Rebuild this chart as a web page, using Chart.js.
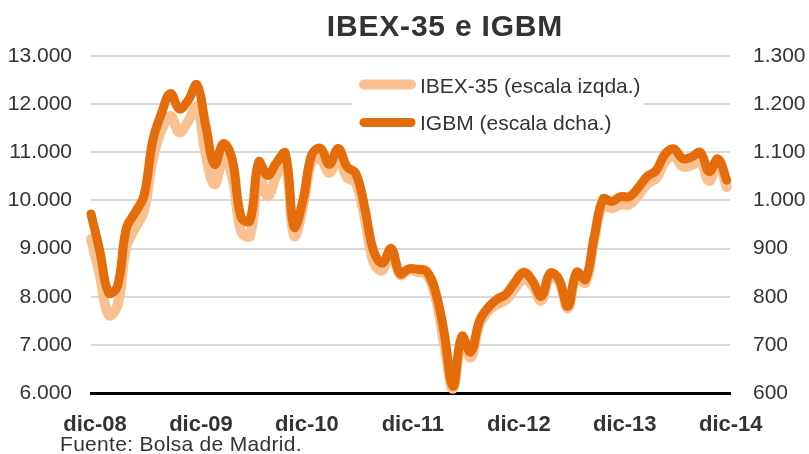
<!DOCTYPE html>
<html lang="es">
<head>
<meta charset="utf-8">
<title>IBEX-35 e IGBM</title>
<script src="https://cdn.jsdelivr.net/npm/chart.js@4.4.1/dist/chart.umd.min.js"></script>
<style>
  html, body { margin: 0; padding: 0; background: #fff; }
  #wrap { position: relative; width: 809px; height: 454px; overflow: hidden; }
  #grafico { position: absolute; left: 0; top: 0; }
  .texto { position: absolute; font-family: 'Liberation Sans', Arial, sans-serif; color: #333; white-space: nowrap; }
  #titulo { left: 445px; top: 11px; transform: translateX(-50%); font-size: 30px; line-height: 30px; font-weight: bold; letter-spacing: 0.8px; }
  #fuente { left: 60px; top: 433px; font-size: 21px; line-height: 21px; letter-spacing: 0.3px; }
</style>
</head>
<body>
<div id="wrap">
  <canvas id="grafico" width="809" height="454"></canvas>
  <div id="titulo" class="texto">IBEX-35 e IGBM</div>
  <div id="fuente" class="texto">Fuente: Bolsa de Madrid.</div>
</div>
<script>
// ---- Datos: cierres mensuales dic-08 .. dic-14 ----
const etiquetasX = ['dic-08', 'dic-09', 'dic-10', 'dic-11', 'dic-12', 'dic-13', 'dic-14'];

// IBEX-35 (escala izquierda)
const ibex = [
  9196, 8450, 7621, 7815, 9039, 9424, 9788, 10855, 11462, 11756, 11415, 11644, 11940,
  10948, 10334, 10871, 10492, 9359, 9263, 10500, 10088, 10515, 10813, 9267, 9859,
  10806, 10851, 10577, 10879, 10476, 10360, 9631, 8719, 8547, 8955, 8450, 8566,
  8509, 8466, 8008, 7011, 6090, 7102, 6738, 7421, 7709, 7843, 7935, 8168,
  8362, 8230, 7920, 8419, 8321, 7763, 8433, 8291, 9186, 9908, 9838, 9917,
  9920, 10114, 10341, 10459, 10799, 10924, 10707, 10729, 10826, 10404, 10771, 10280
];

// IGBM (escala derecha)
const igbm = [
  972, 895, 808, 822, 942, 975, 1010, 1125, 1182, 1222, 1190, 1208, 1240,
  1155, 1075, 1118, 1085, 965, 958, 1080, 1052, 1078, 1098, 945, 1000,
  1095, 1108, 1075, 1108, 1070, 1056, 985, 895, 870, 900, 848, 858,
  857, 853, 812, 725, 614, 718, 685, 750, 778, 795, 805, 830,
  851, 833, 801, 849, 836, 780, 851, 836, 925, 1003, 998, 1008,
  1008, 1027, 1050, 1062, 1096, 1107, 1087, 1090, 1100, 1060, 1086, 1042
];

const nombres = ['IBEX-35 (escala izqda.)', 'IGBM (escala dcha.)'];
const colIbex = '#FAC090';
const colIgbm = '#E46C0A';
const FUENTE  = "'Liberation Sans', Arial, sans-serif";

// ---- Utilidades ----
function miles(v) {
  return String(v).replace(/\B(?=(\d{3})+(?!\d))/g, '.');
}
const aPuntos = arr => arr.map((v, i) => ({ x: i, y: v }));

// Leyenda propia: recuadro blanco encima de la rejilla, bajo las series
const leyenda = {
  id: 'leyenda',
  beforeDatasetsDraw(chart) {
    const ctx = chart.ctx;
    ctx.save();
    ctx.fillStyle = '#fff';
    ctx.fillRect(352, 62, 292, 80);
    const items = [
      { color: colIbex, y: 84.5, base: 92.5, ancho: 10 },
      { color: colIgbm, y: 122.5, base: 130, ancho: 9 }
    ];
    items.forEach((it, i) => {
      ctx.strokeStyle = it.color;
      ctx.lineWidth   = it.ancho;
      ctx.lineCap     = 'round';
      ctx.beginPath();
      ctx.moveTo(364, it.y);
      ctx.lineTo(411, it.y);
      ctx.stroke();
      ctx.fillStyle    = '#333';
      ctx.font         = '21px ' + FUENTE;
      ctx.textBaseline = 'alphabetic';
      ctx.textAlign    = 'left';
      ctx.fillText(nombres[i], 420, it.base);
    });
    ctx.restore();
  }
};

const ctx = document.getElementById('grafico').getContext('2d');
new Chart(ctx, {
  type: 'line',
  data: {
    datasets: [
      {
        label: nombres[1],
        data: aPuntos(igbm),
        yAxisID: 'yDer',
        borderColor: colIgbm,
        borderWidth: 9,
        order: 1
      },
      {
        label: nombres[0],
        data: aPuntos(ibex),
        yAxisID: 'yIzq',
        borderColor: colIbex,
        borderWidth: 10,
        order: 2
      }
    ]
  },
  options: {
    responsive: false,
    animation: false,
    events: [],
    layout: { padding: { top: 56, left: 0, right: 0, bottom: 0 } },
    elements: {
      point: { radius: 0 },
      line: {
        tension: 0.4,
        fill: false,
        borderJoinStyle: 'round',
        borderCapStyle: 'round'
      }
    },
    datasets: { line: { clip: 12 } },
    plugins: {
      legend: { display: false },
      title: { display: false },
      tooltip: { enabled: false }
    },
    scales: {
      x: {
        type: 'linear',
        min: 0,
        max: 72.37,
        afterFit(s) { s.height = 61; },
        afterBuildTicks(s) { s.ticks = etiquetasX.map((_, i) => ({ value: i * 12 })); },
        grid: { display: false, drawTicks: false },
        border: { display: true, color: '#000', width: 3 },
        ticks: {
          autoSkip: false,
          maxRotation: 0,
          padding: 19,
          labelOffset: 4,
          color: '#333',
          font: { family: FUENTE, size: 22, weight: 'bold' },
          callback: v => etiquetasX[v / 12]
        }
      },
      yIzq: {
        type: 'linear',
        position: 'left',
        min: 6000,
        max: 13000,
        afterFit(s) { s.width = 91; },
        grid: { color: '#d9d9d9', lineWidth: 2, drawTicks: false },
        border: { display: false },
        ticks: {
          stepSize: 1000,
          padding: 19,
          color: '#333',
          font: { family: FUENTE, size: 21 },
          callback: v => miles(v)
        }
      },
      yDer: {
        type: 'linear',
        position: 'right',
        min: 600,
        max: 1300,
        afterFit(s) { s.width = 79; },
        grid: { display: false, drawTicks: false },
        border: { display: false },
        ticks: {
          stepSize: 100,
          padding: 23,
          color: '#333',
          font: { family: FUENTE, size: 21 },
          callback: v => miles(v)
        }
      }
    }
  },
  plugins: [leyenda]
});
</script>
</body>
</html>
